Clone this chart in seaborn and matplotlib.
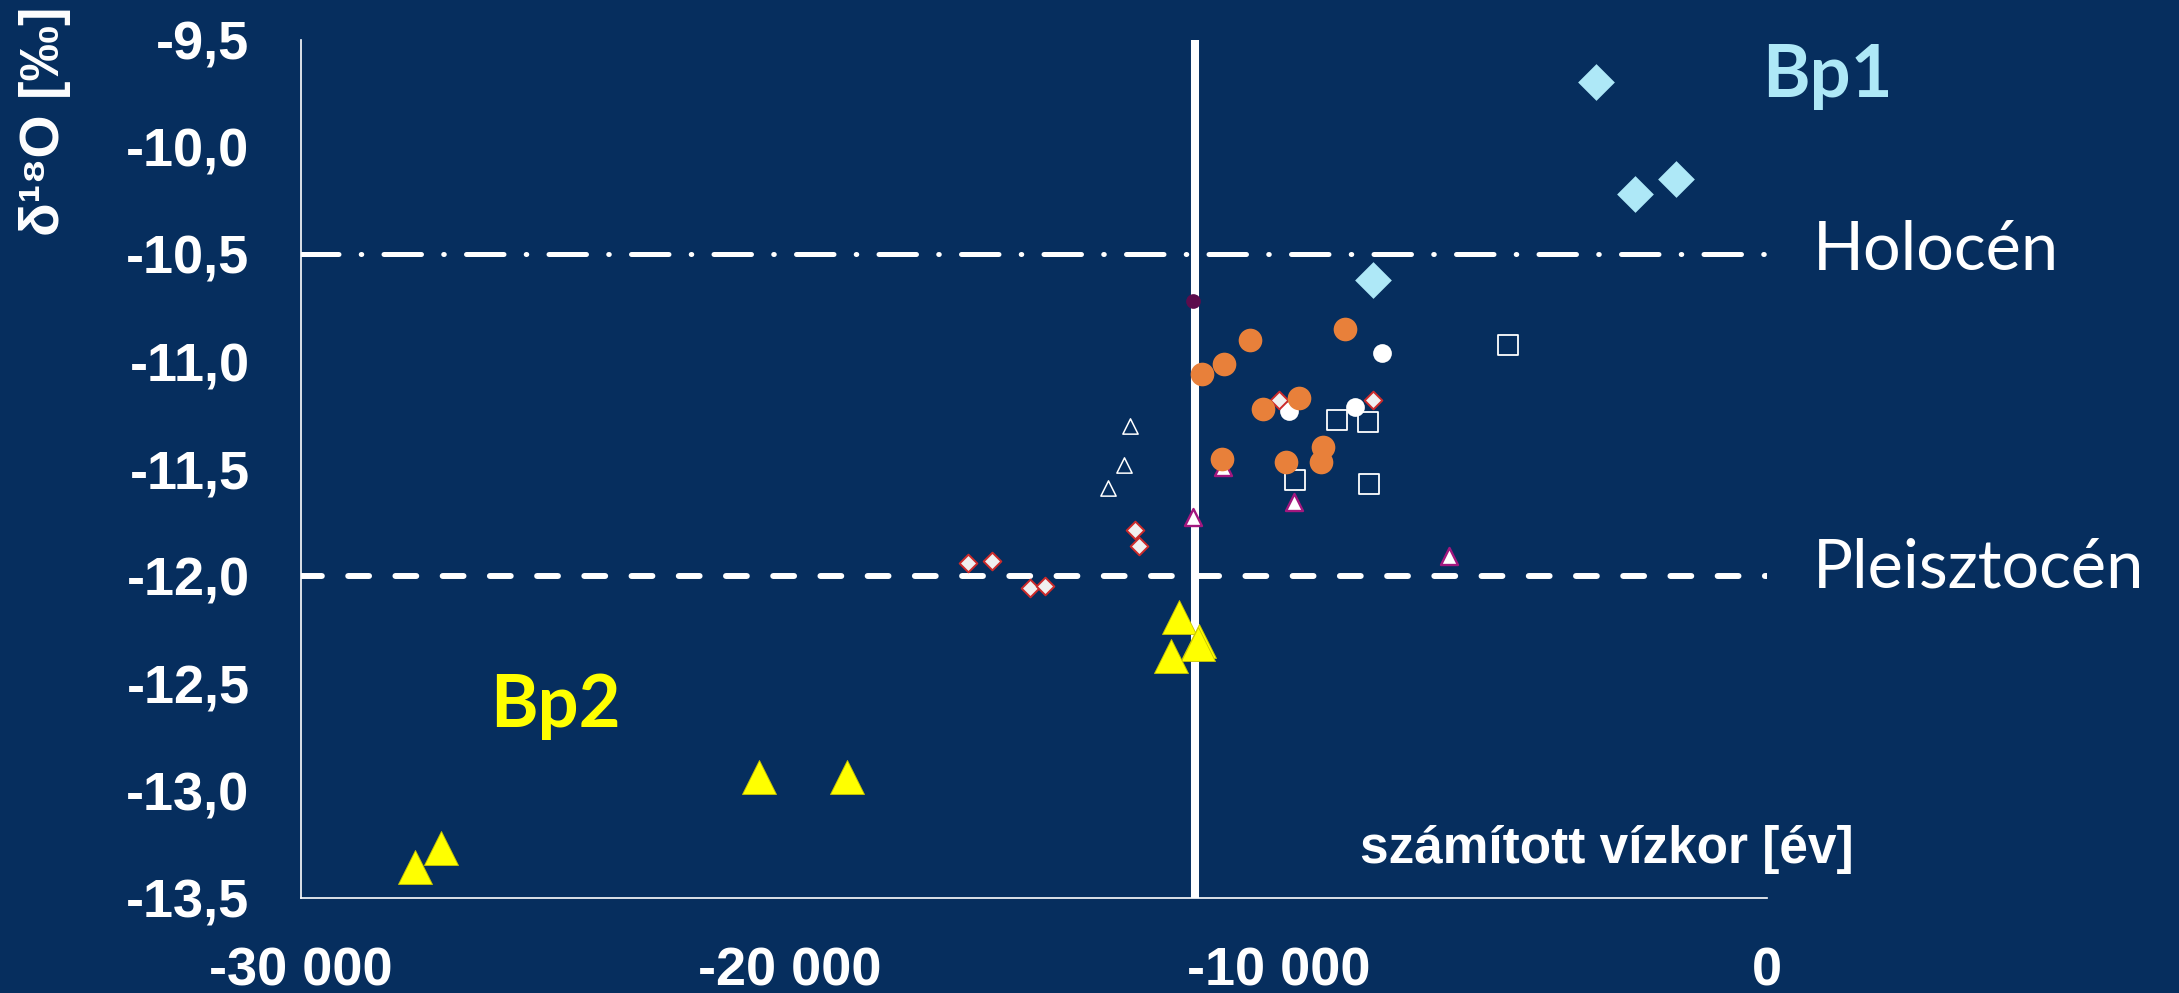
import matplotlib
matplotlib.use("Agg")
import matplotlib.pyplot as plt
import seaborn as sns

# ---- data: calculated water age [years] vs. delta-18O [permil] ----
bp1_age = [-3500, -1860, -2710, -8060]
bp1_d18o = [-9.70, -10.15, -10.22, -10.62]

orange_age = [-10570, -8640, -11120, -11560, -10310, -9580, -9080, -9130, -9840, -11160]
orange_d18o = [-10.90, -10.85, -11.01, -11.06, -11.22, -11.17, -11.40, -11.47, -11.47, -11.455]

white_age = [-7870, -8430, -9780]
white_d18o = [-10.96, -11.21, -11.23]

purple_age = [-11750]
purple_d18o = [-10.72]

reddiam_age = [-9990, -8060, -12930, -12850, -16350, -15850, -15090, -14770]
reddiam_d18o = [-11.18, -11.18, -11.785, -11.86, -11.94, -11.93, -12.055, -12.045]

square_age = [-5300, -8800, -8160, -9650, -8140]
square_d18o = [-10.925, -11.27, -11.28, -11.55, -11.57]

opentri_age = [-13040, -13160, -13490]
opentri_d18o = [-11.30, -11.48, -11.59]

magtri_age = [-11140, -9670, -11750, -6500]
magtri_d18o = [-11.49, -11.655, -11.725, -11.905]

bp2_age = [-12030, -11620, -11650, -12200, -20630, -18830, -27140, -27660]
bp2_d18o = [-12.19, -12.30, -12.315, -12.37, -12.935, -12.935, -13.265, -13.355]

holocene_boundary = -11700
holocene_level = -10.5
pleistocene_level = -12.0

x_ticks = [-30000, -20000, -10000, 0]
x_tick_labels = ["-30 000", "-20 000", "-10 000", "0"]
y_ticks = [-9.5, -10.0, -10.5, -11.0, -11.5, -12.0, -12.5, -13.0, -13.5]
y_tick_labels = ["-9,5", "-10,0", "-10,5", "-11,0", "-11,5", "-12,0", "-12,5", "-13,0", "-13,5"]

# ---- style ----
BG = "#062e5e"
sns.set_style("white", {"axes.facecolor": BG, "figure.facecolor": BG,
                        "axes.edgecolor": "white"})
plt.rcParams["font.family"] = ["Liberation Sans", "DejaVu Sans"]
plt.rcParams["lines.scale_dashes"] = False

fig = plt.figure(figsize=(21.79, 9.93), dpi=100)
ax = fig.add_axes([0.13814, 0.09537, 0.67279, 0.86485])
ax.set_facecolor(BG)

# reference lines
ax.axvline(holocene_boundary, color="white", lw=5.8, zorder=1)
ax.axhline(holocene_level, color="white", lw=3.6, zorder=1,
           dashes=(27, 16, 0.4, 16), dash_capstyle="round")
ax.axhline(pleistocene_level, color="white", lw=4.3, zorder=1,
           dashes=(15, 19), dash_capstyle="round")

# point groups
sns.scatterplot(x=opentri_age, y=opentri_d18o, marker="^", s=121, color=BG,
                edgecolor="white", linewidth=1.1, ax=ax, zorder=3)
sns.scatterplot(x=magtri_age, y=magtri_d18o, marker="^", s=150, color="white",
                edgecolor="#a3177e", linewidth=1.7, ax=ax, zorder=3)
sns.scatterplot(x=square_age, y=square_d18o, marker="s", s=227, color=BG,
                edgecolor="white", linewidth=1.3, ax=ax, zorder=3)
sns.scatterplot(x=white_age, y=white_d18o, marker="o", s=182, color="white",
                edgecolor="white", linewidth=0, ax=ax, zorder=3)
sns.scatterplot(x=reddiam_age, y=reddiam_d18o, marker="D", s=81, color="#f0f0f0",
                edgecolor="#cc2a2a", linewidth=1.4, ax=ax, zorder=3)
sns.scatterplot(x=orange_age, y=orange_d18o, marker="o", s=290, color="#e8803a",
                edgecolor="#e8803a", linewidth=0, ax=ax, zorder=3)
sns.scatterplot(x=purple_age, y=purple_d18o, marker="o", s=112, color="#5c0c4c",
                edgecolor="#5c0c4c", linewidth=0, ax=ax, zorder=3)
sns.scatterplot(x=bp1_age, y=bp1_d18o, marker="D", s=350, color="#aee8f7",
                edgecolor="#aee8f7", linewidth=0, ax=ax, zorder=3)
sns.scatterplot(x=bp2_age, y=bp2_d18o, marker="^", s=600, color="#ffff00",
                edgecolor="#c9c400", linewidth=0.6, ax=ax, zorder=3)

# axes
ax.set_xlim(-30000, 0)
ax.set_ylim(-13.5, -9.5)
ax.set_xticks(x_ticks)
ax.set_xticklabels(x_tick_labels)
ax.set_yticks(y_ticks)
ax.set_yticklabels(y_tick_labels)
ax.tick_params(axis="both", length=0, labelcolor="white", labelsize=39)
ax.tick_params(axis="x", pad=35)
ax.tick_params(axis="y", pad=37)
for lbl in ax.get_xticklabels() + ax.get_yticklabels():
    lbl.set_fontweight("bold")
for side in ("top", "right"):
    ax.spines[side].set_visible(False)
for side in ("left", "bottom"):
    ax.spines[side].set_color("white")
    ax.spines[side].set_linewidth(1.2)
ax.set_xlabel("")
ax.set_ylabel("")

# annotations
W, H = 2179.0, 993.0
fig.text(45 / W, 1 - 121 / H, "δ¹⁸O [‰]", rotation=90, ha="center", va="center",
         color="white", fontsize=40, fontweight="bold",
         family=["Liberation Sans", "DejaVu Sans"])
fig.text(1854 / W, 1 - 863 / H, "számított vízkor [év]", ha="right", va="baseline",
         color="white", fontsize=37, fontweight="bold")
fig.text(1813 / W, 1 - 270 / H, "Holocén", ha="left", va="baseline",
         color="white", fontsize=48, fontweight="normal", family=["Lato", "DejaVu Sans"])
fig.text(1813 / W, 1 - 588 / H, "Pleisztocén", ha="left", va="baseline",
         color="white", fontsize=48, fontweight="normal", family=["Lato", "DejaVu Sans"])
fig.text(1762 / W, 1 - 97 / H, "Bp1", ha="left", va="baseline",
         color="#aee8f7", fontsize=52, fontweight="bold", family=["Lato", "DejaVu Sans"])
fig.text(490 / W, 1 - 727 / H, "Bp2", ha="left", va="baseline",
         color="#ffff00", fontsize=52, fontweight="bold", family=["Lato", "DejaVu Sans"])

fig.savefig("out.png", dpi=100, facecolor=BG)
